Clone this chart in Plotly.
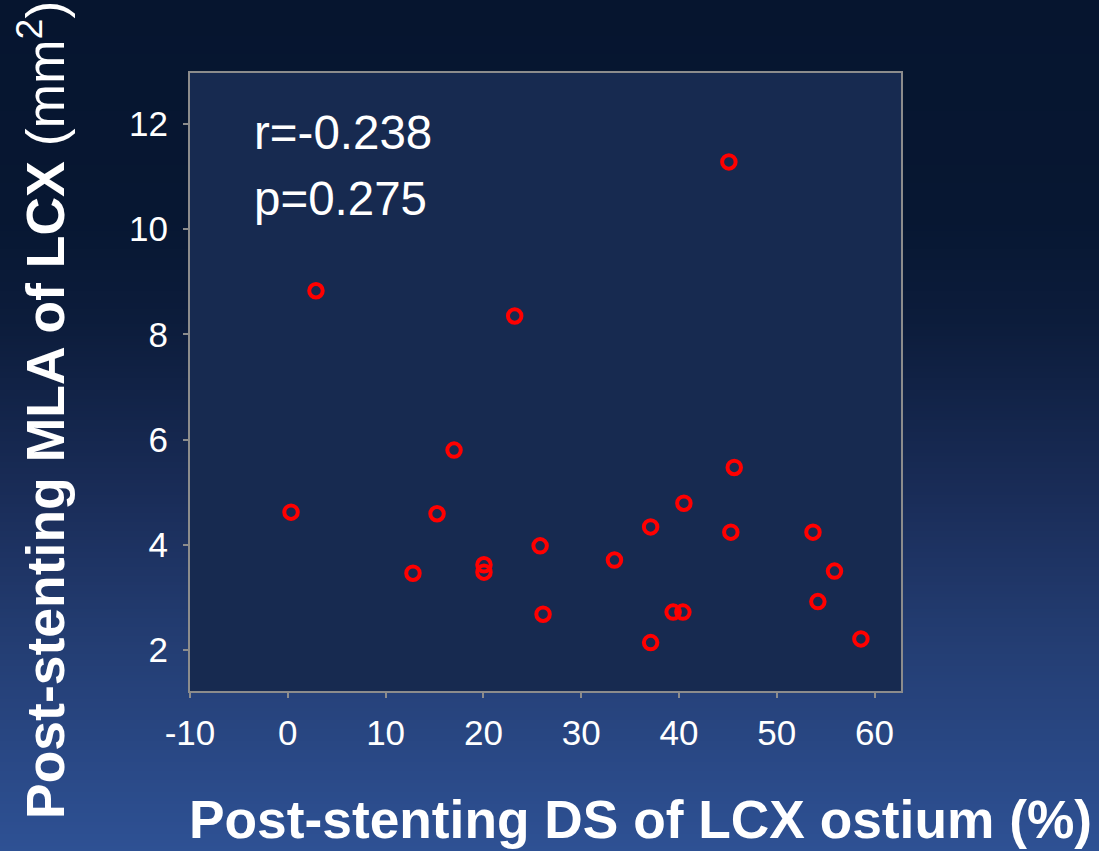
import plotly.graph_objects as go

# ---- data ----
ds_lcx_ostium = [0.33, 2.88, 12.8, 15.26, 17.0, 20.06, 20.06, 23.2, 25.8, 26.1, 33.4,
                 37.1, 37.1, 39.4, 40.4, 40.5, 45.1, 45.3, 45.65, 53.7, 54.2, 55.9, 58.6]
mla_lcx = [4.62, 8.83, 3.46, 4.59, 5.80, 3.62, 3.48, 8.35, 3.98, 2.68, 3.71,
           4.34, 2.14, 2.72, 2.72, 4.79, 11.28, 4.24, 5.47, 4.24, 2.92, 3.50, 2.21]
x_ticks = [-10, 0, 10, 20, 30, 40, 50, 60]
x_tick_labels = ["-10", "0", "10", "20", "30", "40", "50", "60"]
y_ticks = [2, 4, 6, 8, 10, 12]
y_tick_labels = ["2", "4", "6", "8", "10", "12"]
stats_text = ["r=-0.238", "p=0.275"]

W, H = 1099, 851
ML, MR, MT, MB = 190, 198, 73, 160
PW, PH = W - ML - MR, H - MT - MB
FONT = "Liberation Sans, Arial, sans-serif"


def px_x(px):
    return (px - ML) / PW


def px_y(py):
    return (H - MB - py) / PH


# background gradient stops (pixel y, rgb)
stops = [(0, (6, 21, 47)), (220, (7, 23, 50)), (320, (12, 28, 59)), (500, (26, 45, 89)),
         (650, (36, 62, 116)), (851, (46, 81, 148))]


def color_at(y):
    for (y0, c0), (y1, c1) in zip(stops[:-1], stops[1:]):
        if y0 <= y <= y1:
            t = (y - y0) / (y1 - y0)
            return "rgb(%d,%d,%d)" % tuple(round(a + (b - a) * t) for a, b in zip(c0, c1))
    return "rgb(%d,%d,%d)" % stops[-1][1]


shapes = []
step = 3
for y in range(0, H, step):
    shapes.append(dict(type="rect", xref="paper", yref="paper", layer="below",
                       x0=px_x(-2), x1=px_x(W + 2), y0=px_y(y + step + 0.5), y1=px_y(y),
                       fillcolor=color_at(y + step / 2), line=dict(width=0)))
# plot area
shapes.append(dict(type="rect", xref="paper", yref="paper", layer="below",
                   x0=0, x1=1, y0=0, y1=1, fillcolor="#172a50", line=dict(width=0)))

fig = go.Figure()
fig.add_trace(go.Scatter(
    x=ds_lcx_ostium, y=mla_lcx, mode="markers",
    marker=dict(symbol="circle-open", size=13.5, color="#ff0000",
                line=dict(width=4, color="#ff0000")),
    showlegend=False, cliponaxis=False))

annotations = [
    dict(text=stats_text[0], xref="paper", yref="paper", x=px_x(252), y=px_y(132),
         xanchor="left", yanchor="middle", showarrow=False,
         font=dict(family=FONT, size=47.5, color="white")),
    dict(text=stats_text[1], xref="paper", yref="paper", x=px_x(252), y=px_y(198),
         xanchor="left", yanchor="middle", showarrow=False,
         font=dict(family=FONT, size=47.5, color="white")),
    dict(text="<b>Post-stenting DS of LCX ostium (%)</b>", xref="paper", yref="paper",
         x=px_x(187), y=px_y(820), xanchor="left", yanchor="middle", showarrow=False,
         font=dict(family=FONT, size=53.3, color="white")),
    dict(text="<b>Post-stenting MLA of LCX</b> (mm<sup>2</sup>)", xref="paper", yref="paper",
         x=px_x(41), y=px_y(410), xanchor="center", yanchor="middle", textangle=-90,
         showarrow=False, font=dict(family=FONT, size=53.5, color="white")),
]

fig.update_layout(
    width=W, height=H,
    margin=dict(l=ML, r=MR, t=MT, b=MB, pad=0),
    paper_bgcolor="rgb(6,21,47)",
    plot_bgcolor="rgba(0,0,0,0)",
    shapes=shapes,
    annotations=annotations,
    font=dict(family=FONT, color="white"),
    xaxis=dict(range=[-10, 62.7], tickvals=x_ticks, ticktext=x_tick_labels,
               ticks="outside", ticklen=5, ticklabelstandoff=5,
               tickwidth=2, tickcolor="#8c8c8c", showgrid=False, zeroline=False,
               showline=True, mirror=True, linecolor="#8c8c8c", linewidth=2,
               tickfont=dict(family=FONT, size=35, color="white")),
    yaxis=dict(range=[1.22, 12.97], tickvals=y_ticks, ticktext=y_tick_labels,
               ticks="outside", ticklen=5, ticklabelstandoff=8,
               tickwidth=2, tickcolor="#8c8c8c", showgrid=False, zeroline=False,
               showline=True, mirror=True, linecolor="#8c8c8c", linewidth=2,
               tickfont=dict(family=FONT, size=35, color="white")),
)

fig.write_html("out.html")
